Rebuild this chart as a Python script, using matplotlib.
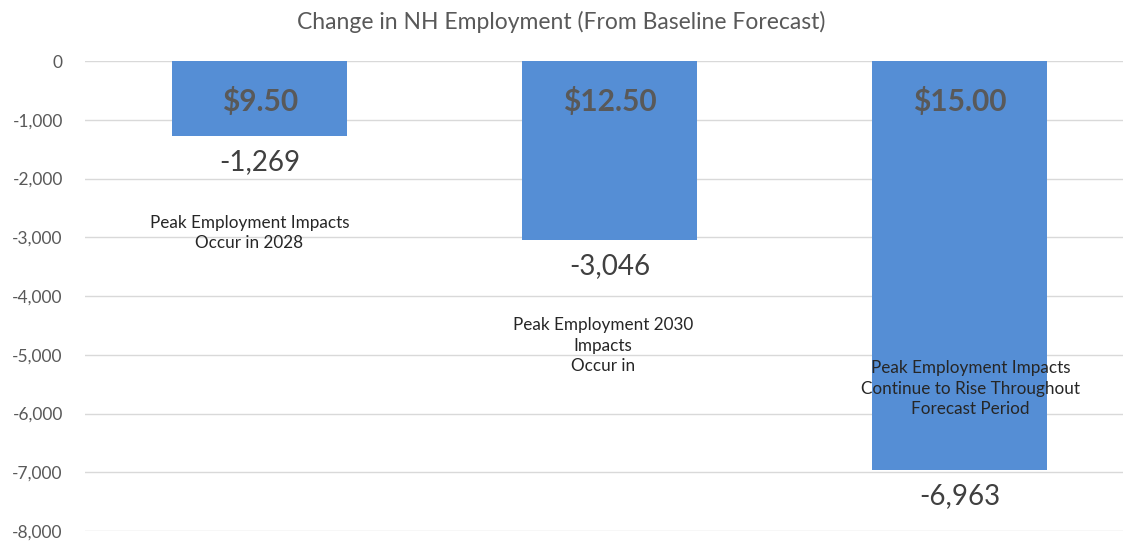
import numpy as np
import matplotlib.pyplot as plt

# datos
wages = ["$9.50", "$12.50", "$15.00"]
change = [-1269, -3046, -6963]
notes = ["Peak Employment Impacts\nOccur in 2028",
         "Peak Employment 2030\nImpacts\nOccur in",
         "Peak Employment Impacts\nContinue to Rise Throughout\nForecast Period"]
yticks = np.arange(-8000, 1, 1000)

plt.rcParams['font.family'] = ['Lato', 'DejaVu Sans']

fig = plt.figure(figsize=(11.23, 5.42), dpi=100)
ax = fig.add_axes([85 / 1123, 11 / 542, 1 - 85 / 1123, 470 / 542])

x = np.arange(len(change))
ax.bar(x, change, width=0.5, color="#558ed5", zorder=2)

ax.set_xlim(-0.5, 2.466)
ax.set_ylim(-8000, 0)
ax.set_yticks(yticks)
ax.set_yticklabels([f"{v:,}" for v in yticks])
ax.tick_params(axis='y', length=0, pad=16, labelsize=12.5, labelcolor="#595959")
ax.set_xticks([])
for s in ax.spines.values():
    s.set_visible(False)
ax.grid(axis='y', color="#d9d9d9", lw=1, zorder=0)

fig.text(0.5, 1 - 22 / 542, "Change in NH Employment (From Baseline Forecast)",
         ha='center', va='center', fontsize=16.5, color="#595959")

for i, (w, v) in enumerate(zip(wages, change)):
    ax.annotate(w, xy=(i, 0), xytext=(0, -29), textcoords='offset points',
                ha='center', va='center', fontsize=21.5, fontweight='bold',
                color="#595959", zorder=3)
    ax.annotate(f"{v:,}", xy=(i, v), xytext=(0, -19), textcoords='offset points',
                ha='center', va='center', fontsize=20, color="#404040", zorder=3)

# posiciones de las notas (en datos)
note_pos = [(-0.03, -2930), (-0.02, -4850), (0.03, -5580)]
for i, (t, (dx, yy)) in enumerate(zip(notes, note_pos)):
    ax.text(i + dx, yy, t, ha='center', va='center', fontsize=12.3,
            color="#262626", linespacing=1.35, zorder=3)

plt.savefig("out.png", dpi=100)
